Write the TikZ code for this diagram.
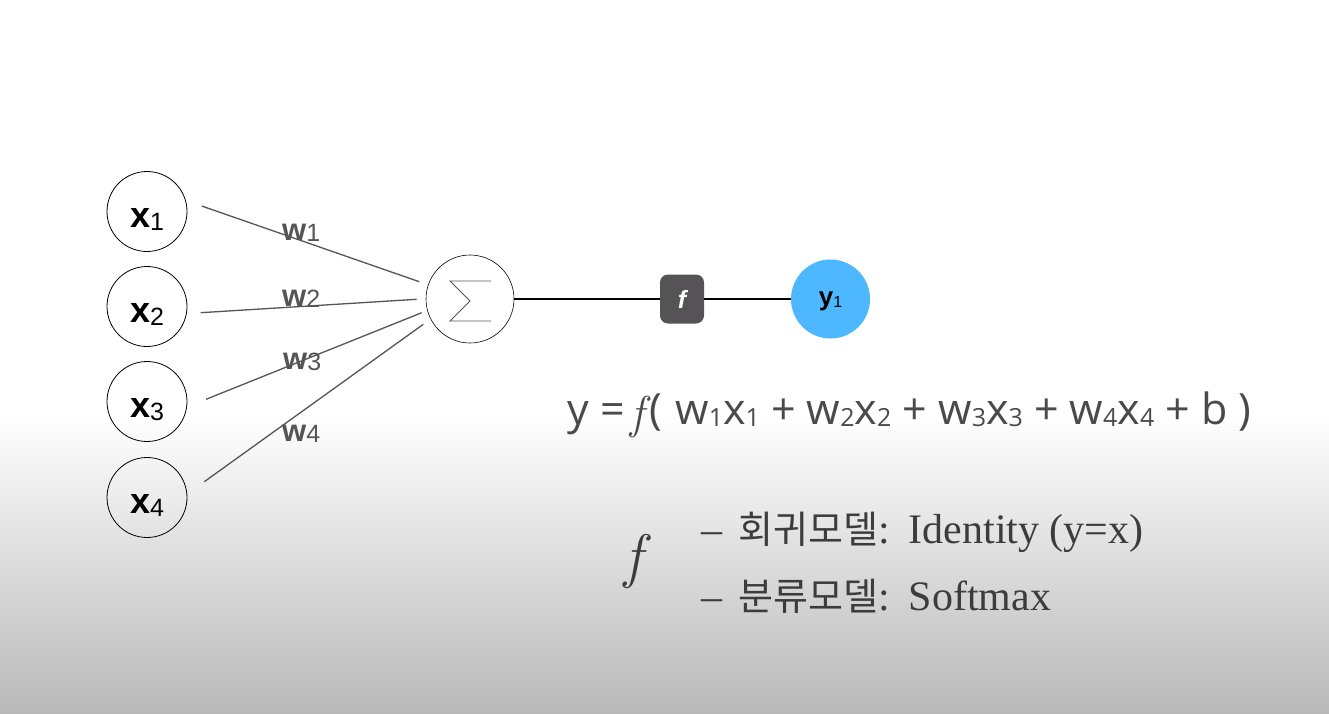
\documentclass[tikz,border=0pt]{standalone}
\usepackage{fontspec}
\usepackage{graphicx}
\usetikzlibrary{calc}
\newfontfamily\labfont{Liberation Sans}
\newfontfamily\formfont{Open Sans}
\newfontfamily\krfont{Noto Sans CJK KR}
\newfontfamily\serfont{Liberation Serif}
\newfontfamily\lmfont{Latin Modern Roman}
\definecolor{bgbot}{HTML}{B9B9B9}
\definecolor{wire}{HTML}{555555}
\definecolor{wlab}{HTML}{555555}
\definecolor{fboxc}{HTML}{555355}
\definecolor{ycirc}{HTML}{4DB8FF}
\definecolor{formc}{HTML}{4A4A4A}
\definecolor{ktext}{HTML}{3C3C3C}
\newcommand\mysub[3]{\raisebox{-#2pt}{\fontsize{#1}{#1}\selectfont\mdseries #3}}
\newcommand\fsb[1]{\mysub{25}{2.5}{#1}}
\newcommand\itf[1]{{\lmfont\itshape\fontsize{#1}{#1}\selectfont f}}
\begin{document}
\begin{tikzpicture}[x=1pt,y=-1pt,
  innode/.style={circle,draw=black,line width=0.8pt,minimum size=80pt,inner sep=0pt,
     font=\labfont\bfseries\fontsize{36}{36}\selectfont,text height=31pt,text depth=0pt},
  wire/.style={draw=wire,line width=1.3pt},
  wlabel/.style={anchor=base west,inner sep=0pt,text=wlab,font=\labfont\bfseries\fontsize{31}{31}\selectfont},
  link/.style={draw=black,line width=1.2pt}]
\useasboundingbox (0,0) rectangle (1329,713);
\fill[white] (0,0) rectangle (1329,713);
\shade[top color=white,bottom color=bgbot] (0,415) rectangle (1329,713);

% input nodes
\node[innode] (x1) at (147,211.5) {x\mysub{25}{3.3}{1}};
\node[innode] (x2) at (147,306.5) {x\mysub{25}{3.3}{2}};
\node[innode] (x3) at (147,401.5) {x\mysub{25}{3.3}{3}};
\node[innode] (x4) at (147,497.5) {x\mysub{25}{3.3}{4}};

% summation node
\node[circle,draw=black,line width=0.6pt,minimum size=88pt,inner sep=0pt] (sum) at (470,299) {};
\draw[wire,line width=0.8pt,line join=miter]
  ($(sum)+(21,-18)$) -- ($(sum)+(-20,-18)$) -- ($(sum)+(0,2)$) -- ($(sum)+(-20,22)$) -- ($(sum)+(21,22)$);

% activation and output
\node[rounded corners=8pt,fill=fboxc,minimum width=44pt,minimum height=49pt,inner sep=0pt,
  text=white,font=\labfont\bfseries\itshape\fontsize{25}{25}\selectfont] (fbox) at (682,299) {f};
\node[circle,fill=ycirc,minimum size=79pt,inner sep=0pt,
  font=\labfont\bfseries\fontsize{26}{26}\selectfont,text height=12pt,text depth=0pt] (y1) at (830.5,299) {y\mysub{16}{2}{1}};

% connector start/end points
\coordinate (a1) at ($(x1)+(54.7,-5.5)$);
\coordinate (a2) at ($(x2)+(53.7,6.2)$);
\coordinate (a3) at ($(x3)+(59,-2.2)$);
\coordinate (a4) at ($(x4)+(57.3,-15.8)$);
\coordinate (b1) at ($(sum)+(-50.7,-17.3)$);
\coordinate (b2) at ($(sum)+(-53.3,0.3)$);
\coordinate (b3) at ($(sum)+(-48.3,13.7)$);
\coordinate (b4) at ($(sum)+(-46.7,25.3)$);
\draw[wire] (a1) -- (b1);
\draw[wire] (a2) -- (b2);
\draw[wire] (a3) -- (b3);
\draw[wire] (a4) -- (b4);

\draw[link] (sum) -- (fbox);
\draw[link] (fbox) -- (y1);

% weight labels
\node[wlabel] (w1) at (282,240) {w\mysub{25}{1.7}{1}};
\node[wlabel] (w2) at (282,306) {w\mysub{25}{1.7}{2}};
\node[wlabel] (w3) at (283,369) {w\mysub{25}{1.7}{3}};
\node[wlabel] (w4) at (282,441) {w\mysub{25}{1.7}{4}};

% formula
\node[anchor=base west,inner sep=0pt,text=formc] (form) at (567,424)
  {\formfont\fontsize{43}{46}\selectfont y =\hspace{6pt}\raisebox{-4pt}{\itf{46}}\hspace{5pt}(\hspace{2pt} w\fsb{1}x\fsb{1} + w\fsb{2}x\fsb{2} + w\fsb{3}x\fsb{3} + w\fsb{4}x\fsb{4} + b )};

% f explanation
\node[anchor=base west,inner sep=0pt,text=ktext] (bigf) at (624,576)
  {\itf{60}};
\node[anchor=base west,inner sep=0pt,text=ktext] (l1) at (701,543)
  {\serfont\fontsize{42}{44}\selectfont –\hspace{16pt}{\krfont\fontsize{38}{40}\selectfont 회귀모델}:\hspace{19pt}Identity (y=x)};
\node[anchor=base west,inner sep=0pt,text=ktext] (l2) at (701,610)
  {\serfont\fontsize{42}{44}\selectfont –\hspace{16pt}{\krfont\fontsize{38}{40}\selectfont 분류모델}:\hspace{19pt}Softmax};
\end{tikzpicture}
\end{document}
